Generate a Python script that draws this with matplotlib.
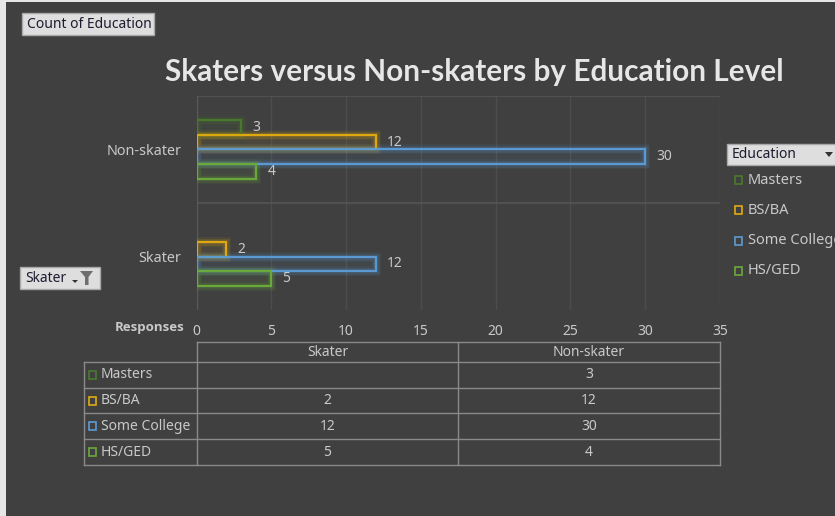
import matplotlib
matplotlib.use("Agg")
import matplotlib.pyplot as plt
from matplotlib.patches import Rectangle, Polygon

# ---- data ----
groups = ["Non-skater", "Skater"]
education = ["Masters", "BS/BA", "Some College", "HS/GED"]
counts = {
    "Non-skater": [3, 12, 30, 4],
    "Skater": [None, 2, 12, 5],
}
colors = ["#4a7a2c", "#e0aa10", "#5b9bd5", "#6aaa3a"]
xticks = [0, 5, 10, 15, 20, 25, 30, 35]

BG = "#404040"
TXT = "#c9c9c9"
LINE = "#8a8a8a"
W, H = 835, 516
FONT = "Noto Sans"

fig = plt.figure(figsize=(W / 100, H / 100), dpi=100, facecolor="#e6e6e6")

# full-figure pixel canvas for background, buttons, legend and table
bg = fig.add_axes([0, 0, 1, 1], zorder=0)
bg.set_xlim(0, W); bg.set_ylim(H, 0); bg.axis("off")
bg.add_patch(Rectangle((6, 2), W, H, facecolor=BG, edgecolor="none"))

# ---- bar chart ----
px0, px1, py0, py1 = 196.5, 720, 96, 310
ax = fig.add_axes([px0 / W, 1 - py1 / H, (px1 - px0) / W, (py1 - py0) / H], zorder=1)
ax.set_facecolor("none")
ax.set_xlim(0, 35)
ax.set_ylim(2, 0)
for s in ax.spines.values():
    s.set_visible(False)
ax.axvline(0, color="#5a5a5a", lw=1, zorder=1)
for xv in xticks[1:]:
    ax.axvline(xv, color="#4d4d4d", lw=1, zorder=0)
for yv in (0, 1.0):
    ax.axhline(yv, color="#555555", lw=1.2, zorder=0)

bh = 0.14
offs = [-0.21, -0.07, 0.07, 0.21]
for gi, g in enumerate(groups):
    for k, v in enumerate(counts[g]):
        if v is None:
            continue
        yc = gi + 0.5 + offs[k]
        c = colors[k]
        # soft glow around the outline
        for lw, a in [(7, 0.08), (5, 0.12), (3.2, 0.18)]:
            ax.barh(yc, v, height=bh, left=0, facecolor="none", edgecolor=c,
                    linewidth=lw, alpha=a, zorder=2)
        ax.barh(yc, v, height=bh, left=0, facecolor=c, alpha=0.07, zorder=2)
        ax.barh(yc, v, height=bh, left=0, facecolor="none", edgecolor=c,
                linewidth=1.4, zorder=3)
        ax.annotate(str(v), (v, yc), xytext=(8, 0), textcoords="offset points",
                    va="center", ha="left", color=TXT, fontsize=10, family=FONT)

ax.set_xticks(xticks)
ax.set_xticklabels([str(t) for t in xticks])
ax.tick_params(axis="x", length=0, pad=10, colors=TXT, labelsize=10)
for lab in ax.get_xticklabels():
    lab.set_family(FONT)
ax.set_yticks([0.5, 1.5])
ax.set_yticklabels(groups)
ax.tick_params(axis="y", length=0, pad=11, colors=TXT, labelsize=10.3)
for lab in ax.get_yticklabels():
    lab.set_family(FONT)

# ---- title and captions ----
bg.text(474, 72, "Skaters versus Non-skaters by Education Level", ha="center",
        va="center", fontsize=21.4, fontweight="bold", color="#e6e6e6", family="Lato")
bg.text(184, 328, "Responses", ha="right", va="center", fontsize=9.5,
        fontweight="bold", color=TXT, family="Open Sans")


def button(x0, y0, x1, y1, label, fs=9):
    bg.add_patch(Rectangle((x0, y0), x1 - x0, y1 - y0, facecolor="#dedede",
                           edgecolor="#a8a8a8", lw=1, zorder=3))
    bg.text(x0 + 5, (y0 + y1) / 2 + 0.5, label, ha="left", va="center",
            fontsize=fs, color="#1c1c30", family=FONT, zorder=4)


button(22, 13, 154, 35, "Count of Education", fs=10)
button(20, 267, 100, 289, "Skater", fs=10)
# filter icon on the Skater button
bg.add_patch(Polygon([(80, 271), (93, 271), (88.5, 277), (88.5, 285), (85, 285), (85, 277)],
                     closed=True, facecolor="#6e6e6e", edgecolor="none", zorder=4))
bg.add_patch(Polygon([(72, 280), (78, 280), (75, 283)], closed=True,
                     facecolor="#333333", edgecolor="none", zorder=4))

# ---- legend ----
button(727, 144, 840, 165, "Education", fs=10)
bg.add_patch(Polygon([(825, 152), (833, 152), (829, 157)], closed=True,
                     facecolor="#333333", edgecolor="none", zorder=4))
leg_y = [180, 210, 241, 271]
for name, c, y in zip(education, colors, leg_y):
    bg.add_patch(Rectangle((735, y - 4), 7, 8, facecolor="none", edgecolor=c, lw=1.2))
    bg.text(748, y, name, ha="left", va="center", fontsize=10.5, color=TXT, family=FONT)

# ---- data table ----
tx0, tx1, tx2, tx3 = 84, 197, 458, 720
hy0, hy1 = 342, 362
row_y = [362, 388, 413, 439, 465]
lk = dict(color=LINE, lw=1)
# header row
bg.plot([tx1, tx3], [hy0, hy0], **lk)
for xv in (tx1, tx2, tx3):
    bg.plot([xv, xv], [hy0, row_y[-1]], **lk)
bg.plot([tx0, tx0], [row_y[0], row_y[-1]], **lk)
for yv in row_y:
    bg.plot([tx0, tx3], [yv, yv], **lk)
for g, xc in zip(groups[::-1], [(tx1 + tx2) / 2, (tx2 + tx3) / 2]):
    bg.text(xc, (hy0 + hy1) / 2, g, ha="center", va="center", fontsize=10,
            color=TXT, family=FONT)
for k, (name, c) in enumerate(zip(education, colors)):
    yc = (row_y[k] + row_y[k + 1]) / 2
    bg.add_patch(Rectangle((88.5, yc - 4), 7, 8, facecolor="none", edgecolor=c, lw=1.2))
    bg.text(101, yc, name, ha="left", va="center", fontsize=10, color=TXT, family=FONT)
    for g, xc in zip(["Skater", "Non-skater"], [(tx1 + tx2) / 2, (tx2 + tx3) / 2]):
        v = counts[g][k]
        if v is not None:
            bg.text(xc, yc, str(v), ha="center", va="center", fontsize=10,
                    color=TXT, family=FONT)

fig.savefig("out.png", dpi=100, facecolor=fig.get_facecolor())
